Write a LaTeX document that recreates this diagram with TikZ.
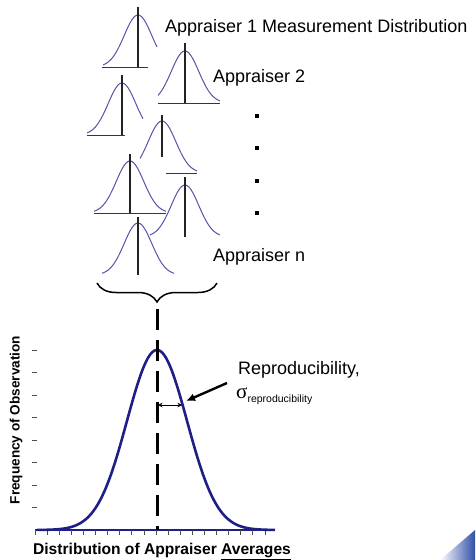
\documentclass[tikz,border=0pt]{standalone}
\usepackage{fontspec}
\setmainfont{Liberation Sans}
\newfontfamily\sigmafont{Liberation Serif}
\usetikzlibrary{arrows.meta,decorations.pathreplacing}
\definecolor{navy}{RGB}{30,30,135}
\definecolor{softblue}{RGB}{85,85,165}
\definecolor{baseblue}{RGB}{45,45,120}
\definecolor{stem}{RGB}{35,35,35}
\definecolor{cornerblue}{RGB}{50,80,170}
\begin{document}
\begin{tikzpicture}[x=1pt,y=-1pt,
  smallc/.style={draw=softblue, line width=1pt},
  baseln/.style={draw=baseblue, line width=1pt},
  stemln/.style={draw=stem, line width=2.4pt},
  bigc/.style={draw=navy, line width=2.6pt},
  lbl/.style={inner sep=0pt, anchor=west, font=\fontsize{18}{20}\selectfont},
  tick/.style={draw=black!70, line width=0.7pt},
  dotmark/.style={fill=black, minimum size=3.6pt, inner sep=0pt}
]
\useasboundingbox (0,0) rectangle (475,560);
% corner decoration
\shade[left color=white, right color=cornerblue] (440,560) -- (475,530) -- (475,560) -- cycle;

% small distributions: {cx}{base}{from}{to}
\foreach \cx/\by/\da/\db in {138/67/-35/19, 185/103/-27/35, 122/135/-35/21, 162/173/-22/35, 130/213/-36/36, 185/237/-35/35, 138/275/-36/36}{
  \draw[smallc] plot[domain=\da:\db, samples=50, smooth] ({\cx+\x},{\by-52*exp(-(\x)*(\x)/380)});
}
% baselines
\draw[baseln] (102,67) -- (148,67);
\draw[baseln] (158,103) -- (220,103);
\draw[baseln] (87,135) -- (125,135);
\draw[baseln] (166,173) -- (197,173);
\draw[baseln] (94,213) -- (166,213);
% stems
\draw[stemln] (138,67) -- (138,7);
\draw[stemln] (185,103) -- (185,43);
\draw[stemln] (122,135) -- (122,75);
\draw[stemln] (162,157) -- (162,115);
\draw[stemln] (130,213) -- (130,154);
\draw[stemln] (185,237) -- (185,177);
\draw[stemln] (138,275) -- (138,217);

% labels
\node[lbl] (a1) at (165,28) {Appraiser 1 Measurement Distribution};
\node[lbl] (a2) at (213,78) {Appraiser 2};
\node[lbl] (an) at (213,257) {Appraiser n};
\foreach \yy [count=\i] in {116,148,181,213}{
  \node[dotmark] (d\i) at (257,\yy) {};
}

% brace
\coordinate (bl) at (97,283);
\coordinate (br) at (217,283);
\coordinate (bracetip) at (157,304);
\draw[line width=1.5pt, decorate, decoration={brace, amplitude=19pt, aspect=0.5}] (br) -- (bl);

% axes
\coordinate (axl) at (35,530);
\coordinate (axr) at (275,530);
\draw[draw=navy, line width=1.2pt] (axl) -- (axr);
\foreach \k in {0,...,19}{
  \draw[tick] ({35+12.1*\k},530) -- ({35+12.1*\k},535);
}
\foreach \k in {0,...,7}{
  \draw[tick] (32,{350+22.5*\k}) -- (37,{350+22.5*\k});
}

% big curve
\draw[bigc] plot[domain=-120:118, samples=150, smooth] ({157+\x},{530-180*exp(-(\x)*(\x)/1800)});

% dashed center line
\coordinate (dashend) at (157,530);
\draw[line width=3pt, dash pattern=on 21pt off 10pt] (157,309) -- (dashend);

% sigma arrow
\coordinate (sl) at (158,405);
\coordinate (sr) at (182,405);
\draw[{Stealth[length=4.5pt,width=4.5pt]}-{Stealth[length=4.5pt,width=4.5pt]}, line width=0.9pt] (sl) -- (sr);

\node[lbl] (rep) at (238,370) {Reproducibility,};
\node[inner sep=0pt, anchor=west] (sig) at (236,396) {{\sigmafont\fontsize{21}{22}\selectfont σ}\raisebox{-4pt}{\fontsize{10.5}{12}\selectfont reproducibility}};
\coordinate (arrtail) at (227,383);
\coordinate (arrtip) at (186,401);
\draw[-{Latex[length=9pt,width=8pt]}, line width=2.4pt] (arrtail) -- (arrtip);

% axis titles
\node[rotate=90, inner sep=0pt, font=\bfseries\fontsize{13.6}{15}\selectfont] (ylab) at (16,420) {Frequency of Observation};
\node[inner sep=0pt, font=\bfseries\fontsize{15.6}{17}\selectfont] (xlab) at (162,551) {Distribution of Appraiser \underline{Averages}};
\end{tikzpicture}
\end{document}
